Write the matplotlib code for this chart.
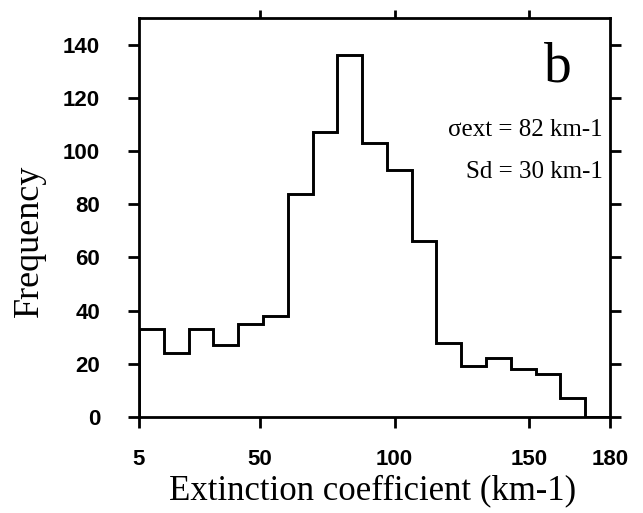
import numpy as np
import matplotlib
matplotlib.use("Agg")
import matplotlib.pyplot as plt

# histogram of extinction coefficient, 19 bins between 5 and 180
bin_lo = 5
bin_hi = 180
counts = [33, 24, 33, 27, 35, 38, 84, 107, 136, 103, 93, 66, 28, 19, 22, 18, 16, 7, 0]
xticks = [5, 50, 100, 150, 180]
yticks = [0, 20, 40, 60, 80, 100, 120, 140]

edges = np.linspace(bin_lo, bin_hi, len(counts) + 1)

fig = plt.figure(figsize=(6.43, 5.13), dpi=100)
ax = fig.add_axes([139/643, 1 - 417/513, 471/643, 399/513])

ax.stairs(counts, edges, color='black', linewidth=2.1)

ax.set_xlim(bin_lo, bin_hi)
ax.set_ylim(0, 150)

for sp in ax.spines.values():
    sp.set_linewidth(2.0)

tick_font = dict(family='Liberation Sans', weight='bold', size=16)
ax.set_xticks(xticks)
ax.set_xticklabels([str(v) for v in xticks], fontdict=tick_font)
ax.set_yticks(yticks)
ax.set_yticklabels([str(v) for v in yticks], fontdict=tick_font)
ax.tick_params(direction='out', length=8, width=2)
ax.tick_params(axis='x', pad=15)
ax.tick_params(axis='y', pad=20)
ax.tick_params(top=False, right=True)

# top ticks only at the interior positions
sec = ax.secondary_xaxis('top')
sec.set_xticks(xticks[1:-1])
sec.set_xticklabels([])
sec.tick_params(direction='out', length=6, width=2)
sec.spines['top'].set_visible(False)

serif = 'Liberation Serif'
ax.set_xlabel('Extinction coefficient (km-1)', family=serif, size=25)
ax.xaxis.set_label_coords(0.495, -0.144)
ax.set_ylabel('Frequency', family=serif, size=26)
ax.yaxis.set_label_coords(-0.197, 0.441)

ax.text(0.89, 0.842, 'b', transform=ax.transAxes, family=serif, size=40,
        ha='center', va='baseline')
ax.text(0.985, 0.704, '\u03c3ext = 82 km-1', transform=ax.transAxes,
        family=serif, size=18, ha='right', va='baseline')
ax.text(0.985, 0.599, 'Sd = 30 km-1', transform=ax.transAxes,
        family=serif, size=18, ha='right', va='baseline')

fig.savefig('out.png', dpi=100)
